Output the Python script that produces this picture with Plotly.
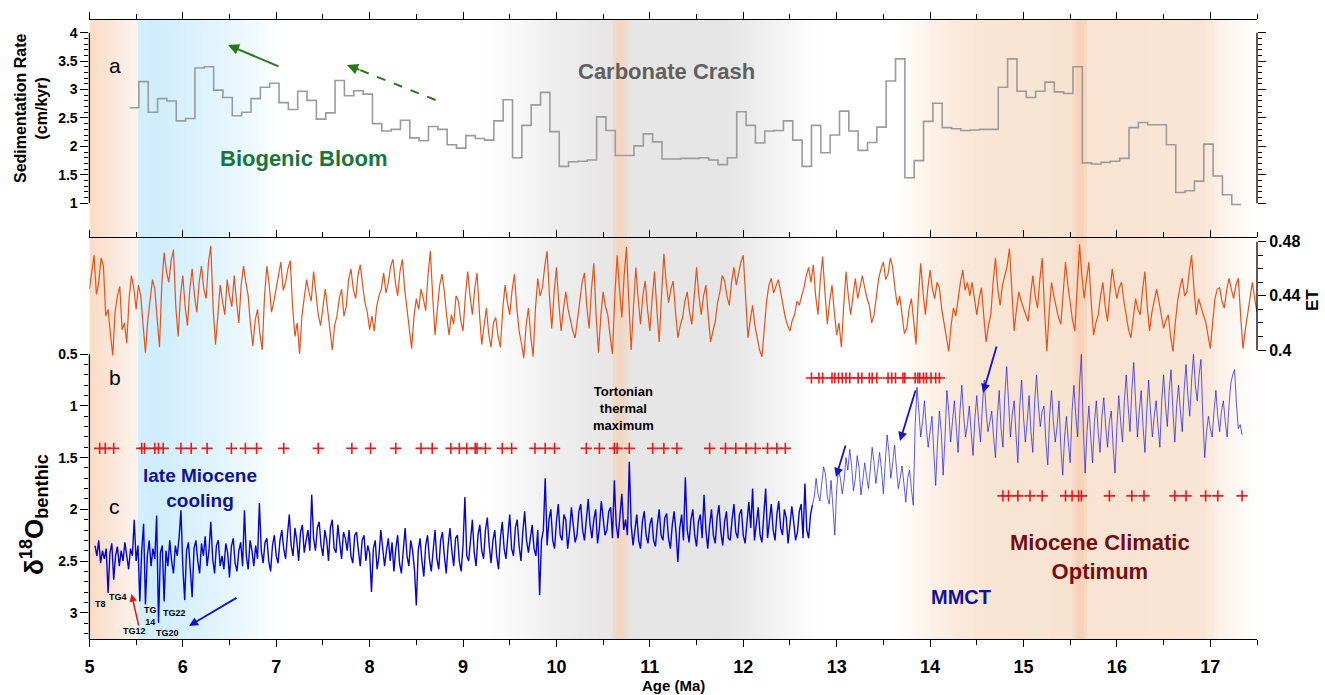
import numpy as np
import plotly.graph_objects as go

W, H = 1325, 695
XL, XR = 89.4, 1257.0          # pixel edges of plot area
Y_TOP, Y_MID, Y_BOT = 20.0, 237.7, 639.0


def px(x):
    return x / W


def py(y):
    return 1 - y / H


# ---------------------------------------------------------------- data
X_TICKS = [5, 6, 7, 8, 9, 10, 11, 12, 13, 14, 15, 16, 17]
X_MINOR = [5.5, 6.5, 7.5, 8.5, 9.5, 10.5, 11.5, 12.5, 13.5, 14.5, 15.5, 16.5, 17.5]

# (a) sedimentation rate, 0.1 Myr bins starting at 5.43 Ma
SED_AGE_START = 5.43
SED_AGE_STEP = 0.1
SED_RATE = [
    2.68, 3.14, 2.60, 2.84, 2.80, 2.45, 2.49, 3.38, 3.40, 2.99,
    2.86, 2.54, 2.60, 2.84, 3.04, 3.11, 2.77, 2.65, 2.97, 2.81,
    2.48, 2.59, 3.16, 2.89, 2.98, 2.92, 2.40, 2.27, 2.30, 2.46,
    2.15, 2.10, 2.35, 2.30, 2.03, 1.97, 2.19, 2.14, 2.11, 2.45,
    2.82, 1.80, 2.37, 2.73, 2.95, 2.26, 1.65, 1.73, 1.74, 1.76,
    2.52, 2.28, 1.84, 1.84, 2.01, 2.22, 2.08, 1.78, 1.78, 1.79,
    1.79, 1.80, 1.76, 1.68, 1.80, 2.61, 2.37, 2.06, 2.27, 2.28,
    2.45, 2.11, 1.65, 2.37, 1.89, 2.20, 2.62, 2.27, 1.93, 2.07,
    2.34, 3.15, 3.54, 1.45, 1.75, 2.44, 2.76, 2.33, 2.31, 2.28,
    2.29, 2.30, 2.30, 3.04, 3.54, 2.97, 2.86, 2.97, 3.13, 2.96,
    2.93, 3.40, 1.71, 1.69, 1.72, 1.74, 1.79, 2.33, 2.42, 2.38,
    2.38, 2.03, 1.19, 1.22, 1.39, 2.04, 1.48, 1.15, 0.98,
]
SED_TICKS = [1, 1.5, 2, 2.5, 3, 3.5, 4]
SED_TICK_TEXT = ["1", "1.5", "2", "2.5", "3", "3.5", "4"]

# (b) ET, sampled every 0.025 Myr from 5.00 Ma (one row = 0.5 Myr)
ET_AGE_START = 5.00
ET_AGE_STEP = 0.025
ET = [
    0.445, 0.458, 0.470, 0.441, 0.450, 0.468, 0.462, 0.425, 0.430, 0.412, 0.396, 0.428, 0.440, 0.447, 0.415, 0.420, 0.405, 0.438, 0.455, 0.446,
    0.430, 0.448, 0.440, 0.418, 0.398, 0.422, 0.435, 0.452, 0.445, 0.420, 0.402, 0.448, 0.472, 0.458, 0.450, 0.466, 0.474, 0.432, 0.410, 0.440,
    0.455, 0.432, 0.418, 0.445, 0.460, 0.440, 0.428, 0.450, 0.462, 0.445, 0.438, 0.465, 0.477, 0.430, 0.404, 0.425, 0.448, 0.436, 0.426, 0.452,
    0.440, 0.432, 0.455, 0.436, 0.420, 0.448, 0.462, 0.450, 0.440, 0.418, 0.403, 0.422, 0.430, 0.412, 0.400, 0.440, 0.462, 0.448, 0.428, 0.436,
    0.445, 0.456, 0.465, 0.444, 0.450, 0.460, 0.466, 0.432, 0.410, 0.420, 0.397, 0.425, 0.440, 0.452, 0.443, 0.436, 0.458, 0.440, 0.426, 0.418,
    0.430, 0.445, 0.430, 0.414, 0.400, 0.418, 0.425, 0.438, 0.445, 0.425, 0.432, 0.452, 0.460, 0.445, 0.438, 0.455, 0.463, 0.448, 0.435, 0.428,
    0.415, 0.425, 0.414, 0.432, 0.440, 0.445, 0.457, 0.442, 0.450, 0.462, 0.467, 0.450, 0.440, 0.458, 0.467, 0.445, 0.430, 0.418, 0.401, 0.425,
    0.438, 0.430, 0.445, 0.438, 0.429, 0.455, 0.473, 0.440, 0.411, 0.430, 0.448, 0.456, 0.443, 0.425, 0.411, 0.426, 0.419, 0.440, 0.436, 0.422,
    0.414, 0.440, 0.458, 0.440, 0.426, 0.445, 0.457, 0.428, 0.404, 0.418, 0.431, 0.412, 0.402, 0.420, 0.424, 0.410, 0.402, 0.430, 0.448, 0.435,
    0.426, 0.444, 0.456, 0.432, 0.414, 0.405, 0.394, 0.418, 0.431, 0.410, 0.395, 0.430, 0.453, 0.440, 0.446, 0.462, 0.473, 0.440, 0.416, 0.442,
    0.461, 0.435, 0.414, 0.430, 0.443, 0.430, 0.421, 0.414, 0.409, 0.425, 0.436, 0.450, 0.457, 0.432, 0.416, 0.445, 0.464, 0.425, 0.398, 0.425,
    0.443, 0.432, 0.426, 0.410, 0.397, 0.440, 0.470, 0.445, 0.424, 0.455, 0.476, 0.435, 0.400, 0.432, 0.461, 0.438, 0.419, 0.440, 0.451, 0.430,
    0.414, 0.438, 0.458, 0.430, 0.406, 0.440, 0.471, 0.450, 0.435, 0.445, 0.451, 0.428, 0.409, 0.418, 0.424, 0.436, 0.443, 0.428, 0.419, 0.440,
    0.461, 0.440, 0.426, 0.440, 0.448, 0.425, 0.406, 0.414, 0.421, 0.435, 0.443, 0.455, 0.451, 0.440, 0.433, 0.450, 0.461, 0.448, 0.456, 0.465,
    0.470, 0.438, 0.409, 0.422, 0.433, 0.418, 0.409, 0.400, 0.395, 0.418, 0.436, 0.448, 0.453, 0.442, 0.448, 0.452, 0.443, 0.432, 0.424, 0.418,
    0.414, 0.422, 0.426, 0.436, 0.433, 0.440, 0.446, 0.455, 0.461, 0.450, 0.463, 0.440, 0.426, 0.452, 0.469, 0.442, 0.419, 0.436, 0.448, 0.428,
    0.411, 0.420, 0.402, 0.432, 0.458, 0.440, 0.426, 0.440, 0.453, 0.438, 0.446, 0.455, 0.446, 0.438, 0.433, 0.420, 0.426, 0.442, 0.453, 0.460,
    0.465, 0.452, 0.456, 0.468, 0.461, 0.445, 0.433, 0.440, 0.426, 0.412, 0.416, 0.430, 0.438, 0.418, 0.404, 0.440, 0.464, 0.442, 0.426, 0.445,
    0.459, 0.445, 0.438, 0.450, 0.446, 0.430, 0.419, 0.408, 0.399, 0.418, 0.431, 0.425, 0.438, 0.450, 0.459, 0.444, 0.450, 0.440, 0.450, 0.436,
    0.426, 0.438, 0.446, 0.425, 0.406, 0.418, 0.426, 0.450, 0.468, 0.445, 0.433, 0.448, 0.455, 0.462, 0.475, 0.440, 0.414, 0.430, 0.443, 0.436,
    0.431, 0.426, 0.421, 0.440, 0.455, 0.440, 0.431, 0.452, 0.468, 0.430, 0.399, 0.428, 0.450, 0.440, 0.431, 0.424, 0.419, 0.445, 0.465, 0.448,
    0.436, 0.422, 0.414, 0.450, 0.478, 0.455, 0.438, 0.452, 0.465, 0.435, 0.411, 0.420, 0.426, 0.440, 0.450, 0.432, 0.421, 0.442, 0.460, 0.448,
    0.438, 0.446, 0.450, 0.436, 0.426, 0.415, 0.409, 0.425, 0.438, 0.430, 0.426, 0.445, 0.458, 0.432, 0.414, 0.428, 0.438, 0.445, 0.436, 0.425,
    0.416, 0.422, 0.426, 0.410, 0.399, 0.420, 0.436, 0.446, 0.453, 0.440, 0.443, 0.458, 0.470, 0.445, 0.426, 0.438, 0.431, 0.426, 0.421, 0.410,
    0.401, 0.420, 0.438, 0.445, 0.446, 0.436, 0.431, 0.444, 0.453, 0.445, 0.438, 0.448, 0.453, 0.425, 0.401, 0.415, 0.426, 0.440, 0.450, 0.438,
    0.428,
]
ET_TICKS = [0.40, 0.44, 0.48]
ET_TICK_TEXT = ["0.4", "0.44", "0.48"]
ET_MINOR = [0.41, 0.42, 0.43, 0.45, 0.46, 0.47]

# (c) benthic d18O: densely sampled part, every 0.02 Myr from 5.06 to 12.74 Ma
D18O_DENSE_START = 5.06
D18O_DENSE_STEP = 0.02
D18O_DENSE = [
    2.35, 2.45, 2.30, 2.52, 2.40, 2.48, 2.38, 2.81, 2.42, 2.33, 2.68, 2.45, 2.36, 2.55, 2.40, 2.50, 2.32, 2.47, 2.58, 2.38,
    2.45, 2.10, 2.50, 2.35, 2.89, 2.40, 2.14, 2.92, 2.45, 2.30, 2.55, 2.38, 2.48, 2.06, 3.10, 2.42, 2.35, 2.89, 2.40, 2.55,
    2.30, 2.50, 2.62, 2.35, 2.45, 2.28, 2.01, 2.55, 2.88, 2.40, 2.32, 2.58, 2.85, 2.38, 2.30, 2.50, 2.62, 2.33, 2.45, 2.26,
    2.55, 2.40, 2.12, 2.48, 2.62, 2.35, 2.30, 2.55, 2.45, 2.58, 2.33, 2.42, 2.66, 2.36, 2.28, 2.52, 2.60, 2.40, 2.32, 2.55,
    2.01, 2.45, 2.58, 2.30, 2.40, 2.55, 2.35, 2.48, 1.94, 2.40, 2.52, 2.32, 2.28, 2.50, 2.60, 2.35, 2.25, 2.45, 2.52, 2.30,
    2.20, 2.38, 2.48, 2.25, 2.05, 2.35, 2.45, 2.18, 2.30, 2.50, 2.22, 2.15, 2.42, 2.30, 2.20, 2.40, 1.86, 2.28, 2.40, 2.18,
    2.12, 2.35, 2.45, 2.20, 2.30, 2.50, 2.18, 2.10, 2.38, 2.42, 2.15, 2.32, 2.48, 2.22, 2.28, 2.40, 2.20, 2.45, 2.52, 2.25,
    2.22, 2.40, 2.55, 2.30, 2.25, 2.50, 2.35, 2.42, 2.80, 2.38, 2.30, 2.58, 2.45, 2.20, 2.35, 2.55, 2.40, 2.28, 2.50, 2.32,
    2.60, 2.38, 2.25, 2.52, 2.62, 2.35, 2.18, 2.45, 2.55, 2.30, 2.40, 2.58, 2.93, 2.40, 2.28, 2.50, 2.65, 2.35, 2.25, 2.48,
    2.60, 2.40, 2.20, 2.48, 2.58, 2.30, 2.22, 2.45, 2.62, 2.35, 2.18, 2.40, 2.55, 2.28, 2.25, 2.50, 2.60, 2.35, 1.88, 2.45,
    2.50, 2.30, 2.10, 2.42, 2.55, 2.25, 2.15, 2.40, 2.48, 2.20, 2.08, 2.35, 2.52, 2.30, 2.20, 2.45, 2.58, 2.28, 2.12, 2.38,
    2.48, 2.25, 2.05, 2.38, 2.45, 2.18, 2.10, 2.35, 2.50, 2.22, 2.02, 2.30, 2.42, 2.28, 2.15, 2.38, 2.45, 2.20, 2.83, 2.30,
    2.20, 1.70, 2.35, 2.10, 2.00, 2.30, 2.38, 2.12, 1.95, 2.25, 2.30, 2.05, 2.10, 2.38, 2.22, 1.98, 2.15, 2.32, 2.25, 2.02,
    1.95, 2.20, 2.30, 2.05, 1.90, 2.15, 2.28, 2.10, 2.00, 2.33, 2.18, 1.92, 2.08, 2.25, 2.20, 2.02, 1.98, 2.28, 1.72, 2.15,
    2.28, 2.05, 1.85, 2.20, 2.10, 2.25, 1.54, 2.15, 2.35, 2.20, 2.05, 2.30, 2.38, 2.12, 2.02, 2.25, 2.33, 2.15, 2.08, 2.30,
    2.36, 2.15, 2.00, 2.25, 2.30, 2.08, 2.04, 2.28, 2.38, 2.15, 2.02, 2.22, 2.51, 2.18, 2.05, 2.30, 1.69, 2.20, 2.32, 2.10,
    2.00, 2.25, 2.36, 2.12, 2.05, 2.28, 1.86, 2.20, 2.38, 2.15, 2.00, 2.25, 2.33, 2.08, 1.96, 2.22, 2.35, 2.12, 2.02, 2.28,
    2.30, 2.10, 1.95, 2.22, 2.28, 2.05, 2.00, 2.25, 2.33, 2.12, 1.93, 2.18, 1.80, 2.30, 2.15, 1.98, 2.25, 2.32, 2.05, 1.80,
    2.28, 2.10, 1.95, 2.20, 2.30, 2.05, 1.92, 2.18, 2.25, 2.00, 2.08, 2.33, 2.15, 1.97, 2.12, 2.30, 2.22, 2.02, 1.95, 2.28,
    1.75, 2.20, 2.28, 2.05, 1.96,
]
# lighter part, every 0.02 Myr from 12.76 to 17.34 Ma
D18O_LIGHT_START = 12.76
D18O_LIGHT_STEP = 0.02
D18O_LIGHT = [
    1.88,
    1.70, 1.85, 1.92, 1.75, 1.59, 1.66, 1.88, 1.95, 1.72, 1.98, 2.25, 1.80, 1.62, 1.70,
    1.85, 1.72, 1.50, 1.62, 1.42, 1.58, 1.82, 1.70, 1.48, 1.60, 1.86, 1.72, 1.55, 1.68, 1.80, 1.62, 1.40, 1.55, 1.75, 1.60,
    1.45, 1.62, 1.85, 1.55, 1.28, 1.45, 1.70, 1.55, 1.38, 1.60, 1.80, 1.70, 1.58, 1.75, 1.93, 1.70, 1.62, 1.80, 1.96, 1.20,
    0.82, 1.05, 1.30, 1.15, 0.95, 1.22, 1.40, 1.25, 1.10, 1.45, 1.77, 1.35, 1.05, 1.25, 1.67, 1.30, 0.85, 1.05, 1.35, 1.15,
    0.95, 1.20, 1.45, 1.05, 0.80, 1.10, 1.30, 1.18, 1.00, 1.25, 1.48, 1.12, 0.90, 1.15, 1.35, 1.00, 0.75, 1.05, 1.25, 1.15,
    1.05, 1.30, 1.50, 1.10, 0.85, 1.22, 1.40, 0.90, 0.62, 0.95, 1.30, 1.08, 0.95, 1.28, 1.55, 1.00, 0.75, 1.10, 1.35, 1.15,
    0.90, 1.25, 1.45, 0.95, 0.70, 1.00, 1.20, 1.05, 1.00, 1.35, 1.57, 1.10, 0.85, 1.15, 1.35, 1.20, 0.95, 1.40, 1.67, 1.30,
    1.10, 1.35, 1.55, 1.05, 0.80, 1.10, 1.30, 0.80, 0.50, 1.20, 1.65, 1.25, 1.00, 1.30, 1.55, 1.15, 0.95, 1.25, 1.45, 1.10,
    0.92, 1.20, 1.40, 1.15, 1.05, 1.40, 1.65, 1.20, 0.90, 1.15, 1.35, 0.95, 0.70, 1.00, 1.25, 0.85, 0.58, 0.95, 1.30, 1.05,
    0.85, 1.20, 1.45, 1.05, 0.75, 1.05, 1.30, 1.10, 0.95, 1.20, 1.40, 0.95, 0.70, 1.00, 1.20, 0.85, 0.65, 1.05, 1.35, 1.00,
    0.80, 1.05, 1.25, 0.85, 0.60, 0.90, 1.10, 0.75, 0.50, 0.80, 0.95, 0.70, 0.55, 1.10, 1.50, 1.25, 1.10, 1.22, 1.30, 1.05,
    0.85, 1.10, 1.25, 1.05, 0.95, 1.15, 1.30, 1.00, 0.78, 0.70, 0.65, 0.98, 1.22, 1.18, 1.28,
]
D18O_TICKS = [0.5, 1, 1.5, 2, 2.5, 3]
D18O_TICK_TEXT = ["0.5", "1", "1.5", "2", "2.5", "3"]
D18O_MINOR = [0.6, 0.7, 0.8, 0.9, 1.1, 1.2, 1.3, 1.4, 1.6, 1.7, 1.8, 1.9,
              2.1, 2.2, 2.3, 2.4, 2.6, 2.7, 2.8, 2.9, 3.1, 3.2]

# red "+" tie points (age, plotted at a fixed d18O level per row)
PLUS_ROW1_AGE = [5.11, 5.17, 5.26, 5.56, 5.59, 5.70, 5.74, 5.79, 5.98, 6.09,
                 6.26, 6.52, 6.67, 6.79, 7.08, 7.45, 7.81, 8.01, 8.28, 8.55,
                 8.67, 8.87, 8.96, 9.04, 9.13, 9.15, 9.24, 9.42, 9.52, 9.77,
                 9.88, 9.98, 10.32, 10.46, 10.62, 10.65, 10.78, 11.03, 11.15,
                 11.29, 11.64, 11.81, 11.92, 12.03, 12.13, 12.26, 12.36, 12.45]
PLUS_ROW1_LEVEL = 1.41
PLUS_ROW2_AGE = [12.73, 12.81, 12.85, 12.95, 12.98, 13.02, 13.06, 13.10, 13.14,
                 13.23, 13.27, 13.35, 13.38, 13.43, 13.55, 13.59, 13.63, 13.71,
                 13.73, 13.84, 13.87, 13.89, 13.93, 13.96, 14.01, 14.06, 14.10]
PLUS_ROW2_LEVEL = 0.73
PLUS_ROW3_AGE = [14.78, 14.84, 14.94, 15.07, 15.20, 15.45, 15.52, 15.59, 15.62,
                 15.92, 16.16, 16.29, 16.62, 16.74, 16.95, 17.08, 17.34]
PLUS_ROW3_LEVEL = 1.87

# background shading colour stops (age, rgb)
BG_STOPS = [
    (5.00, (249, 220, 197)), (5.20, (250, 228, 212)), (5.45, (253, 241, 234)),
    (5.51, (253, 243, 238)), (5.53, (212, 239, 252)), (5.70, (207, 237, 252)),
    (6.00, (214, 240, 253)), (6.40, (226, 245, 253)), (6.80, (241, 250, 254)),
    (7.00, (255, 255, 255)), (9.20, (255, 255, 255)), (9.60, (247, 247, 247)),
    (10.00, (238, 238, 238)), (10.40, (232, 232, 232)), (10.58, (232, 230, 229)),
    (10.64, (243, 214, 194)), (10.72, (243, 214, 194)), (10.80, (231, 230, 230)),
    (11.80, (229, 229, 229)), (12.20, (238, 238, 238)), (12.50, (246, 246, 246)),
    (12.80, (255, 255, 255)), (13.65, (255, 255, 255)), (13.90, (253, 245, 238)),
    (14.30, (250, 233, 219)), (14.60, (249, 229, 212)), (15.52, (248, 227, 209)),
    (15.58, (245, 210, 184)), (15.64, (245, 210, 184)), (15.70, (249, 228, 211)),
    (16.95, (249, 229, 213)), (17.05, (252, 238, 228)), (17.35, (254, 250, 247)),
    (17.50, (255, 253, 251)),
]

# ---------------------------------------------------------------- figure
FONT = "Liberation Sans, Arial, sans-serif"
fig = go.Figure()

# background gradient strips
bg_ages = [s[0] for s in BG_STOPS]
bg_cols = np.array([s[1] for s in BG_STOPS], dtype=float)
shapes = []
step = 0.04
a = 5.0
while a < 17.5 - 1e-9:
    mid = a + step / 2
    c = [int(round(np.interp(mid, bg_ages, bg_cols[:, k]))) for k in range(3)]
    shapes.append(dict(type="rect", xref="x", yref="paper", x0=a,
                       x1=min(a + step + 0.012, 17.5), y0=py(Y_BOT), y1=py(Y_TOP),
                       fillcolor=f"rgb({c[0]},{c[1]},{c[2]})", line_width=0,
                       layer="below"))
    a += step

# axis lines that only span part of a panel
LINE = dict(color="black", width=1.3)
shapes += [
    dict(type="line", xref="paper", yref="y", x0=px(XL), x1=px(XL), y0=1, y1=4, line=LINE),
    dict(type="line", xref="paper", yref="y", x0=px(XR), x1=px(XR), y0=1, y1=4, line=LINE),
    dict(type="line", xref="paper", yref="y2", x0=px(XL), x1=px(XL), y0=0.5, y1=3.254, line=LINE),
    dict(type="line", xref="paper", yref="y3", x0=px(XR), x1=px(XR), y0=0.40, y1=0.48, line=LINE),
]

# sedimentation rate (stairs)
sed_edges = [round(SED_AGE_START + SED_AGE_STEP * i, 2) for i in range(len(SED_RATE) + 1)]
sed_vals = SED_RATE + [SED_RATE[-1]]
fig.add_trace(go.Scatter(x=sed_edges, y=sed_vals, mode="lines",
                         line=dict(color="rgb(155,155,155)", width=1.6, shape="hv"),
                         xaxis="x2", yaxis="y", hoverinfo="skip"))
# same series on the mirrored right-hand axis (invisible, only so that axis is drawn)
fig.add_trace(go.Scatter(x=sed_edges, y=sed_vals, mode="lines", opacity=0,
                         line=dict(color="rgba(0,0,0,0)", width=0.1, shape="hv"),
                         xaxis="x2", yaxis="y4", hoverinfo="skip"))

# ET
et_age = [round(ET_AGE_START + ET_AGE_STEP * i, 4) for i in range(len(ET))]
fig.add_trace(go.Scatter(x=et_age, y=ET, mode="lines",
                         line=dict(color="rgb(226,84,28)", width=1.2),
                         xaxis="x", yaxis="y3", hoverinfo="skip"))

# d18O
dense_age = [round(D18O_DENSE_START + D18O_DENSE_STEP * i, 3) for i in range(len(D18O_DENSE))]
light_age = [round(D18O_LIGHT_START + D18O_LIGHT_STEP * i, 3) for i in range(len(D18O_LIGHT))]
fig.add_trace(go.Scatter(x=dense_age, y=D18O_DENSE, mode="lines",
                         line=dict(color="rgb(5,5,205)", width=1.4),
                         xaxis="x", yaxis="y2", hoverinfo="skip"))
fig.add_trace(go.Scatter(x=[dense_age[-1]] + light_age, y=[D18O_DENSE[-1]] + D18O_LIGHT,
                         mode="lines", line=dict(color="rgba(30,30,215,0.72)", width=1.0),
                         xaxis="x", yaxis="y2", hoverinfo="skip"))

# red plus rows
for ages, lvl in [(PLUS_ROW1_AGE, PLUS_ROW1_LEVEL), (PLUS_ROW2_AGE, PLUS_ROW2_LEVEL),
                  (PLUS_ROW3_AGE, PLUS_ROW3_LEVEL)]:
    fig.add_trace(go.Scatter(x=ages, y=[lvl] * len(ages), mode="markers",
                             marker=dict(symbol="cross-thin", size=8,
                                         line=dict(color="rgb(235,25,25)", width=1.6)),
                             xaxis="x", yaxis="y2", hoverinfo="skip"))

# ---------------------------------------------------------------- annotations
ann = []


def text(x, y, s, size, color="black", bold=True, angle=0, xanchor="center"):
    ann.append(dict(x=px(x), y=py(y), xref="paper", yref="paper", text=(f"<b>{s}</b>" if bold else s),
                    showarrow=False, textangle=angle, xanchor=xanchor, yanchor="middle",
                    font=dict(family=FONT, size=size, color=color)))


def arrow(tail, head, color, width=2.0, size=1.0):
    ann.append(dict(x=px(head[0]), y=py(head[1]), xref="paper", yref="paper", text="",
                    showarrow=True, ax=tail[0] - head[0], ay=tail[1] - head[1],
                    axref="pixel", ayref="pixel", arrowhead=2, arrowsize=size,
                    arrowwidth=width, arrowcolor=color, standoff=0))


text(115, 66, "a", 21, bold=False)
text(115, 377, "b", 21, bold=False)
text(115, 506, "c", 21, bold=False)
text(666, 72, "Carbonate Crash", 22, color="rgb(95,95,95)")
text(303, 158, "Biogenic Bloom", 22, color="rgb(25,118,58)")
text(200, 488, "late Miocene<br>cooling", 19, color="rgb(18,18,150)")
text(623, 408, "Tortonian<br>thermal<br>maximum", 13)
text(961, 597, "MMCT", 20, color="rgb(18,18,150)")
text(1100, 557, "Miocene Climatic<br>Optimum", 22, color="rgb(118,14,14)")

text(100, 604, "T8", 9)
text(118, 597, "TG4", 9)
text(134, 631, "TG12", 9)
text(150, 616, "TG<br>14", 9)
text(174, 613, "TG22", 9)
text(167, 633, "TG20", 9)

# axis titles
text(31, 109, "Sedimentation Rate<br>(cm/kyr)", 16, angle=-90)
text(34, 515, "δ<sup>18</sup>O<sub>benthic</sub>", 26, angle=-90)
text(1312, 300, "ET", 17, angle=-90)
text(673, 685, "Age (Ma)", 15)

# arrows
G = "rgb(40,118,22)"
arrow((280, 67), (228, 45), G, width=2.0, size=1.1)
shapes.append(dict(type="line", xref="paper", yref="paper", x0=px(435.6), y0=py(100),
                   x1=px(356), y1=py(68.5), line=dict(color=G, width=2, dash="dash")))
arrow((361, 70.5), (347, 65), G, width=2.0, size=1.1)
arrow((139, 627), (131.5, 594), "rgb(235,20,20)", width=1.5, size=1.0)
B = "rgb(20,20,200)"
arrow((238, 597), (189, 626), B, width=1.8)
arrow((846, 444), (836, 477), B, width=1.8)
arrow((916, 389), (900, 441), B, width=1.8)
arrow((997, 345), (983, 393), B, width=1.8)

# ---------------------------------------------------------------- layout
TICKFONT = dict(family=FONT, size=14, color="black")
xdom = [px(XL), px(XR)]
SED_MINOR = [round(1 + 0.1 * i, 1) for i in range(31) if i % 5]

fig.update_layout(
    width=W, height=H, margin=dict(l=0, r=0, t=0, b=0),
    paper_bgcolor="white", plot_bgcolor="rgba(0,0,0,0)", showlegend=False,
    shapes=shapes, annotations=ann,
    xaxis=dict(domain=xdom, range=[5, 17.5], anchor="y2", side="bottom",
               tickmode="array", tickvals=X_TICKS, ticktext=[f"<b>{t}</b>" for t in X_TICKS],
               tickfont=dict(family=FONT, size=18, color="black"),
               ticks="outside", ticklen=7, tickwidth=1.3, tickcolor="black",
               ticklabelstandoff=4,
               minor=dict(tickvals=X_MINOR, ticks="outside", ticklen=5, tickwidth=1.3,
                          tickcolor="black"),
               showline=True, linecolor="black", linewidth=1.3, mirror="ticks",
               showgrid=False, zeroline=False, automargin=False),
    xaxis2=dict(domain=xdom, range=[5, 17.5], anchor="y", side="top",
                tickmode="array", tickvals=X_TICKS, showticklabels=False,
                ticks="outside", ticklen=7, tickwidth=1.3, tickcolor="black",
                minor=dict(tickvals=X_MINOR, ticks="outside", ticklen=5, tickwidth=1.3,
                           tickcolor="black"),
                showline=True, linecolor="black", linewidth=1.3,
                showgrid=False, zeroline=False, automargin=False),
    yaxis=dict(domain=[py(Y_MID), py(Y_TOP)], range=[0.395, 4.223], anchor="x2",
               tickmode="array", tickvals=SED_TICKS,
               ticktext=[f"<b>{t}</b>" for t in SED_TICK_TEXT], tickfont=TICKFONT,
               ticks="outside", ticklen=8, tickwidth=1.2, tickcolor="black",
               minor=dict(tickvals=SED_MINOR, ticks="outside", ticklen=4, tickwidth=1.0,
                          tickcolor="black"),
               showline=False, showgrid=False, zeroline=False, automargin=False),
    yaxis4=dict(overlaying="y", side="right", anchor="x2", range=[0.395, 4.223],
                tickmode="array", tickvals=SED_TICKS, showticklabels=False,
                ticks="outside", ticklen=8, tickwidth=1.2, tickcolor="black",
                minor=dict(tickvals=SED_MINOR, ticks="outside", ticklen=4, tickwidth=1.0,
                           tickcolor="black"),
                showline=False, showgrid=False, zeroline=False, automargin=False),
    yaxis2=dict(domain=[py(Y_BOT), py(Y_MID)], range=[3.254, -0.627], anchor="x",
                tickmode="array", tickvals=D18O_TICKS,
                ticktext=[f"<b>{t}</b>" for t in D18O_TICK_TEXT], tickfont=TICKFONT,
                ticks="outside", ticklen=8, tickwidth=1.2, tickcolor="black",
                minor=dict(tickvals=D18O_MINOR, ticks="outside", ticklen=4, tickwidth=1.0,
                           tickcolor="black"),
                showline=False, showgrid=False, zeroline=False, automargin=False),
    yaxis3=dict(overlaying="y2", side="right", anchor="x", range=[0.18652, 0.48295],
                tickmode="array", tickvals=ET_TICKS,
                ticktext=[f"<b>{t}</b>" for t in ET_TICK_TEXT],
                tickfont=dict(family=FONT, size=16, color="black"),
                ticks="outside", ticklen=8, tickwidth=1.2, tickcolor="black",
                minor=dict(tickvals=ET_MINOR, ticks="outside", ticklen=5, tickwidth=1.0,
                           tickcolor="black"),
                showline=False, showgrid=False, zeroline=False, automargin=False),
)

fig.write_html("out.html")
